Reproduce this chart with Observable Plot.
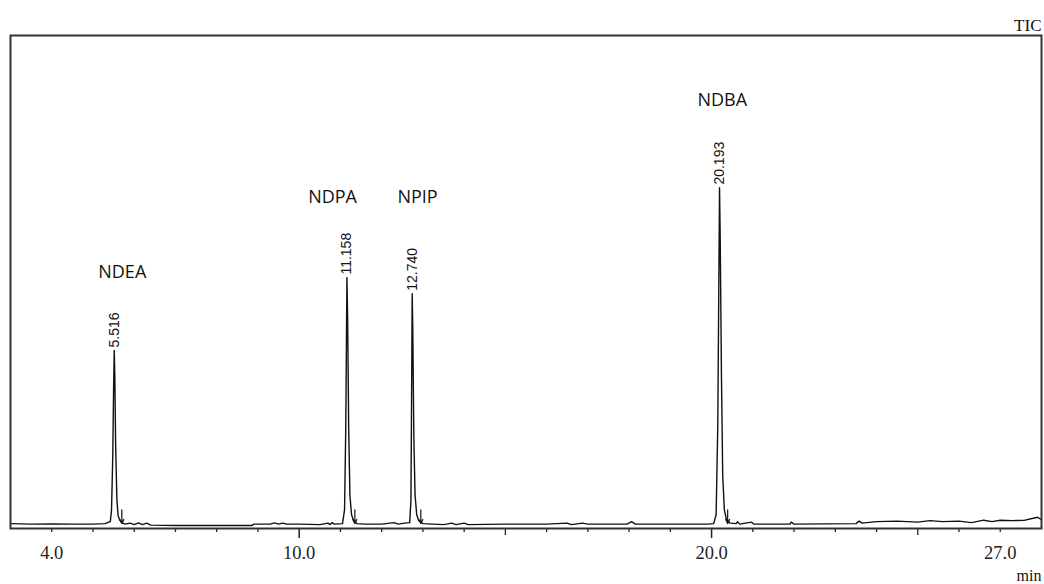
<!DOCTYPE html>
<html>
<head>
<meta charset="utf-8">
<script src="https://cdn.jsdelivr.net/npm/d3@7"></script>
<script src="https://cdn.jsdelivr.net/npm/@observablehq/plot@0.6"></script>
<style>
  html, body { margin: 0; padding: 0; background: #fff; }
  #chart svg { display: block; }
</style>
</head>
<body>
<div id="chart"></div>
<script>
// Peak annotations
const peakNames = ["NDEA", "NDPA", "NPIP", "NDBA"];
const peakTimes = [5.516, 11.158, 12.740, 20.193];
const peakHeights = [35.6, 50.5, 47.2, 68.9];
// where each compound name sits (retention time, intensity level)
const nameTimes = [5.71, 10.81, 12.87, 20.26];
const nameLevels = [51.5, 66.9, 66.9, 86.7];
// integration end markers (small arrows after each peak)
const markerTimes = [5.70, 11.35, 12.95, 20.39];

// Axis ticks
const minorTicks = [4,5,6,7,8,9,11,12,13,14,16,17,18,19,21,22,23,24,26,27];
const mediumTicks = [15, 25];
const majorTicks = [10, 20];
const tickLabels = [4, 10, 20, 27];

// TIC trace (retention time in min, relative intensity)
const trace = [
  [3.0,0.2],[3.5,0.1],[4.0,0.15],[4.5,0.1],[5.0,0.1],[5.3,0.2],[5.38,0.5],[5.42,0.6],
  [5.45,3],[5.48,14],[5.50,28],[5.516,35.6],[5.53,30],[5.55,16],[5.58,5],[5.61,1.8],
  [5.65,0.9],[5.70,0.4],[5.78,0.1],[5.9,0.3],[6.0,0.0],[6.1,0.35],[6.2,0.0],[6.3,0.3],
  [6.4,-0.1],[7.0,-0.2],[8.0,-0.2],[8.85,-0.2],[8.9,0.1],[9.3,0.1],[9.4,0.35],[9.5,0.1],
  [9.6,0.3],[9.7,0.1],[10.0,0.1],[10.5,0.0],[10.7,0.3],[10.75,0.0],[10.8,0.4],[10.85,0.1],
  [11.05,0.2],[11.10,3],[11.13,20],[11.158,50.5],[11.175,42],[11.2,20],[11.23,6],[11.27,2],
  [11.32,0.8],[11.4,0.2],[11.6,0.1],[12.0,0.1],[12.3,0.4],[12.4,0.1],[12.55,0.3],[12.68,0.4],
  [12.71,5],[12.725,25],[12.74,47.2],[12.755,40],[12.78,18],[12.81,6],[12.85,2],[12.9,0.8],
  [13.0,0.2],[13.5,0.0],[13.7,0.3],[13.8,0.0],[14.0,0.3],[14.1,0.0],[15.0,0.1],[16.0,0.1],
  [16.5,0.3],[16.6,0.0],[16.87,0.3],[17.0,0.1],[17.95,0.1],[18.06,0.6],[18.15,0.1],
  [19.9,0.1],[20.05,0.2],[20.11,2],[20.15,20],[20.193,68.9],[20.21,58],[20.24,30],
  [20.27,10],[20.31,3],[20.36,1],[20.45,0.3],[20.6,0.2],[20.63,0.6],[20.68,0.1],
  [20.97,0.5],[21.02,0.1],[21.9,0.1],[21.93,0.5],[22.0,0.1],[23.5,0.2],[23.58,0.7],
  [23.65,0.3],[24.0,0.6],[24.5,0.7],[25.0,0.5],[25.3,0.8],[25.6,0.6],[26.0,0.7],
  [26.3,0.4],[26.6,0.9],[26.8,0.6],[27.0,0.9],[27.3,0.8],[27.6,0.9],[27.8,1.3],
  [27.9,1.5],[28.0,1.0]
];

const peaks = peakNames.map((n, i) => ({
  name: n, t: peakTimes[i], h: peakHeights[i], nt: nameTimes[i], nl: nameLevels[i]
}));

const serif = "'Liberation Serif', 'Times New Roman', serif";

const chart = Plot.plot({
  width: 1044,
  height: 584,
  marginLeft: 10,
  marginRight: 3,
  marginTop: 35,
  marginBottom: 56,
  style: {background: "#fff", color: "#111", fontFamily: serif},
  x: {domain: [3, 28], label: null},
  y: {domain: [-0.8, 100], axis: null, label: null},
  marks: [
    Plot.line(trace, {x: d => d[0], y: d => d[1], stroke: "#111", strokeWidth: 1.4}),
    Plot.arrow(markerTimes, {
      x1: d => d, x2: d => d, y1: 3.0, y2: 0.2,
      stroke: "#111", strokeWidth: 1.2, headLength: 6, headAngle: 50
    }),
    Plot.text(peaks, {
      x: "t", y: "h", text: d => d.t.toFixed(3), rotate: -90,
      textAnchor: "start", lineAnchor: "middle", dy: -3,
      fontFamily: "'Liberation Sans', Arial, sans-serif", fontSize: 14, fill: "#111"
    }),
    Plot.text(peaks, {
      x: "nt", y: "nl", text: "name",
      fontFamily: "'Open Sans', 'Noto Sans', sans-serif", fontSize: 18, fill: "#111"
    }),
    Plot.axisX(minorTicks, {tickSize: 4, tickFormat: () => "", stroke: "#222", strokeWidth: 1.3, label: null}),
    Plot.axisX(mediumTicks, {tickSize: 7, tickFormat: () => "", stroke: "#222", strokeWidth: 1.3, label: null}),
    Plot.axisX(majorTicks, {tickSize: 10, tickFormat: () => "", stroke: "#222", strokeWidth: 1.5, label: null}),
    Plot.axisX(tickLabels, {
      tickSize: 0, tickPadding: 17, tickFormat: d => d.toFixed(1),
      fontFamily: serif, fontSize: 18.5, fill: "#222", label: null
    }),
    Plot.frame({stroke: "#333", strokeWidth: 2}),
    Plot.text(["TIC"], {
      frameAnchor: "top-right", text: d => d, textAnchor: "end", lineAnchor: "bottom",
      dy: -5, fontFamily: serif, fontSize: 17, fill: "#111"
    }),
    Plot.text(["min"], {
      frameAnchor: "bottom-right", text: d => d, textAnchor: "end", lineAnchor: "bottom",
      dy: 52, fontFamily: serif, fontSize: 16, fill: "#111"
    })
  ]
});

document.getElementById("chart").appendChild(chart);
</script>
</body>
</html>
